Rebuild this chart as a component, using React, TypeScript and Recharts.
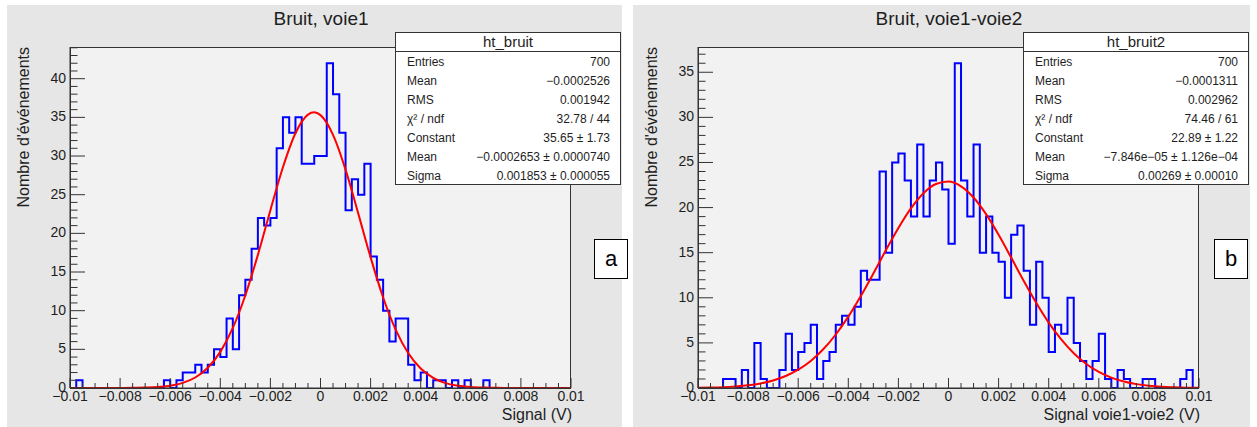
import React from 'react';
import { ComposedChart, Line, XAxis, YAxis } from 'recharts';

// 80 bins of 0.00025 V between -0.01 and 0.01
const BIN_START = -0.01;
const BIN_WIDTH = 0.00025;

const countsVoie1 = [
  0, 1, 0, 0, 0, 0, 0, 0, 0, 0,
  0, 0, 0, 0, 0, 1, 0, 1, 2, 2,
  3, 2, 3, 5, 4, 9, 5, 12, 14, 18,
  22, 21, 22, 31, 35, 33, 35, 29, 29, 30,
  30, 42, 38, 33, 23, 27, 25, 29, 17, 14,
  10, 6, 9, 9, 3, 1, 2, 0, 1, 1,
  0, 1, 0, 1, 0, 0, 1, 0, 0, 0,
  0, 0, 0, 0, 0, 0, 0, 0, 0, 0,
];

const countsDiff = [
  0, 0, 0, 0, 1, 1, 0, 2, 0, 5,
  1, 0, 0, 2, 6, 2, 4, 5, 7, 1,
  3, 4, 7, 8, 7, 9, 13, 12, 12, 24,
  15, 25, 26, 23, 19, 27, 19, 23, 25, 22,
  16, 36, 23, 19, 27, 15, 19, 15, 14, 10,
  17, 18, 13, 7, 14, 10, 4, 7, 6, 10,
  5, 3, 1, 3, 6, 1, 0, 2, 1, 0,
  0, 1, 1, 0, 0, 0, 0, 1, 2, 0,
];

// red gaussian fit
const fitXVoie1 = [
  -0.01, -0.0095, -0.009, -0.0085, -0.008, -0.0075, -0.007, -0.0065, -0.006, -0.0055,
  -0.005, -0.0045, -0.004, -0.0035, -0.003, -0.0025, -0.002, -0.0015, -0.001, -0.0005,
  -0.00025, 0, 0.0005, 0.001, 0.0015, 0.002, 0.0025, 0.003, 0.0035, 0.004,
  0.0045, 0.005, 0.0055, 0.006, 0.0065, 0.007, 0.0075, 0.008, 0.0085, 0.009, 0.0095, 0.01,
];
const fitYVoie1 = [
  0, 0, 0, 0, 0.01, 0.02, 0.05, 0.12, 0.3, 0.66,
  1.36, 2.62, 4.67, 7.77, 12.0, 17.22, 23.0, 28.55, 32.95, 35.36,
  35.65, 35.29, 32.74, 28.24, 22.65, 16.89, 11.71, 7.55, 4.52, 2.52,
  1.31, 0.63, 0.28, 0.12, 0.05, 0.02, 0.01, 0, 0, 0, 0, 0,
];

const fitXDiff = [
  -0.01, -0.0095, -0.009, -0.0085, -0.008, -0.0075, -0.007, -0.0065, -0.006, -0.0055,
  -0.005, -0.0045, -0.004, -0.0035, -0.003, -0.0025, -0.002, -0.0015, -0.001, -0.0005,
  0, 0.0005, 0.001, 0.0015, 0.002, 0.0025, 0.003, 0.0035, 0.004, 0.0045,
  0.005, 0.0055, 0.006, 0.0065, 0.007, 0.0075, 0.008, 0.0085, 0.009, 0.0095, 0.01,
];
const fitYDiff = [
  0.03, 0.05, 0.09, 0.17, 0.3, 0.51, 0.84, 1.33, 2.03, 3.0,
  4.29, 5.93, 7.91, 10.2, 12.69, 15.27, 17.74, 19.91, 21.59, 22.61,
  22.88, 22.36, 21.12, 19.27, 16.98, 14.46, 11.89, 9.45, 7.25, 5.38,
  3.85, 2.66, 1.78, 1.15, 0.72, 0.43, 0.25, 0.14, 0.08, 0.04, 0.02,
];

const xTickLabels = ['\u22120.01', '\u22120.008', '\u22120.006', '\u22120.004', '\u22120.002', '0', '0.002', '0.004', '0.006', '0.008', '0.01'];

const statsLabels = ['Entries', 'Mean', 'RMS', '\u03c7\u00b2 / ndf', 'Constant', 'Mean', 'Sigma'];
const statsVoie1 = ['700', '\u22120.0002526', '0.001942', '32.78 / 44', '35.65 \u00b1 1.73', '\u22120.0002653 \u00b1 0.0000740', '0.001853 \u00b1 0.000055'];
const statsDiff = ['700', '\u22120.0001311', '0.002962', '74.46 / 61', '22.89 \u00b1 1.22', '\u22127.846e\u221205 \u00b1 1.126e\u221204', '0.00269 \u00b1 0.00010'];

const FONT = '"Liberation Sans", Arial, Helvetica, sans-serif';
const AXIS = '#333';
const TEXT = '#1e1e1e';

// minor ticks every 0.0005, major every 0.002
const xTicks = Array.from({ length: 41 }, (_, i) => Number((-0.01 + i * 0.0005).toFixed(5)));

const XTick = (props: any) => {
  const { x, y, payload } = props;
  const k = Math.round((payload.value + 0.01) / 0.0005);
  const major = k % 4 === 0;
  return (
    <g>
      <line x1={x} x2={x} y1={y} y2={y - (major ? 10 : 5)} stroke={AXIS} strokeWidth={1} />
      {major && (
        <text x={x} y={y + 13} textAnchor="middle" fontSize={14} fontFamily={FONT} fill={TEXT}>
          {xTickLabels[k / 4]}
        </text>
      )}
    </g>
  );
};

const YTick = (props: any) => {
  const { x, y, payload } = props;
  const major = payload.value % 5 === 0;
  return (
    <g>
      <line x1={x} x2={x + (major ? 15 : 7.5)} y1={y} y2={y} stroke={AXIS} strokeWidth={1} />
      {major && (
        <text x={x - 4} y={y + 4} textAnchor="end" fontSize={14} fontFamily={FONT} fill={TEXT}>
          {payload.value}
        </text>
      )}
    </g>
  );
};

interface PanelProps {
  ox: number;
  canvasLeft: number;
  canvasWidth: number;
  title: string;
  xTitle: string;
  counts: number[];
  fitX: number[];
  fitY: number[];
  yMax: number;
  statsName: string;
  stats: string[];
  tag: string;
  tagLeft: number;
}

function HistPanel({ ox, canvasLeft, canvasWidth, title, xTitle, counts, fitX, fitY, yMax, statsName, stats, tag, tagLeft }: PanelProps) {
  const hist = counts.map((c, i) => ({ x: BIN_START + i * BIN_WIDTH, y: c }));
  hist.push({ x: 0.01, y: counts[counts.length - 1] });
  const fit = fitX.map((x, i) => ({ x, y: fitY[i] }));
  const yTicks = Array.from({ length: Math.floor(yMax) + 1 }, (_, i) => i);

  return (
    <>
      <div style={{ position: 'absolute', left: canvasLeft, top: 5, width: canvasWidth, height: 422, background: '#e6e6e6' }} />
      <div
        style={{
          position: 'absolute', left: ox + 70, top: 47, width: 501, height: 342,
          background: '#f2f2f2', border: `1px solid ${AXIS}`, boxSizing: 'border-box',
        }}
      />
      <div style={{ position: 'absolute', left: ox, top: 0 }}>
        <ComposedChart width={628} height={427} margin={{ top: 47, right: 57, bottom: 0, left: 0 }}>
          <XAxis
            type="number"
            dataKey="x"
            domain={[-0.01, 0.01]}
            ticks={xTicks}
            interval={0}
            allowDataOverflow
            height={39}
            tickSize={0}
            tickMargin={0}
            tickLine={false}
            axisLine={{ stroke: AXIS }}
            tick={XTick}
          />
          <YAxis
            type="number"
            dataKey="y"
            domain={[0, yMax]}
            ticks={yTicks}
            interval={0}
            allowDataOverflow
            width={70}
            tickSize={0}
            tickMargin={0}
            tickLine={false}
            axisLine={{ stroke: AXIS }}
            tick={YTick}
          />
          <Line data={hist} dataKey="y" type="stepAfter" stroke="#0000ff" strokeWidth={2} dot={false} isAnimationActive={false} />
          <Line data={fit} dataKey="y" type="monotone" stroke="#ff0000" strokeWidth={2} dot={false} isAnimationActive={false} />
        </ComposedChart>
      </div>
      <svg style={{ position: 'absolute', left: ox, top: 0 }} width={628} height={427}>
        <text x={321} y={25} textAnchor="middle" fontSize={19} fontFamily={FONT} fill={TEXT}>{title}</text>
        <text x={29} y={47} transform="rotate(-90 29 47)" textAnchor="end" fontSize={16} fontFamily={FONT} fill={TEXT}>
          Nombre d'événements
        </text>
        <text x={572} y={420} textAnchor="end" fontSize={16} fontFamily={FONT} fill={TEXT}>{xTitle}</text>
      </svg>
      <div
        style={{
          position: 'absolute', left: ox + 395, top: 32, width: 226, height: 153,
          background: '#fff', border: `1px solid ${AXIS}`, boxSizing: 'border-box', fontFamily: FONT, color: TEXT,
        }}
      >
        <div style={{ height: 18, borderBottom: `1px solid ${AXIS}`, textAlign: 'center', fontSize: 15, lineHeight: '18px' }}>
          {statsName}
        </div>
        {statsLabels.map((label, i) => (
          <div
            key={i}
            style={{ height: 19, display: 'flex', justifyContent: 'space-between', alignItems: 'center', padding: '0 10px 0 11px', fontSize: 12 }}
          >
            <span>{label}</span>
            <span>{stats[i]}</span>
          </div>
        ))}
      </div>
      <div
        style={{
          position: 'absolute', left: tagLeft, top: 239, width: 34, height: 40, background: '#fff',
          border: '1px solid #000', boxSizing: 'border-box', fontFamily: FONT, fontSize: 22,
          display: 'flex', alignItems: 'center', justifyContent: 'center', color: '#000',
        }}
      >
        {tag}
      </div>
    </>
  );
}

export default function App() {
  return (
    <div style={{ position: 'absolute', left: 0, top: 0, width: 1257, height: 427, background: '#fff', overflow: 'hidden' }}>
      <HistPanel
        ox={0}
        canvasLeft={7}
        canvasWidth={615}
        title="Bruit, voie1"
        xTitle="Signal (V)"
        counts={countsVoie1}
        fitX={fitXVoie1}
        fitY={fitYVoie1}
        yMax={44.1}
        statsName="ht_bruit"
        stats={statsVoie1}
        tag="a"
        tagLeft={594}
      />
      <HistPanel
        ox={628}
        canvasLeft={633}
        canvasWidth={617}
        title="Bruit, voie1-voie2"
        xTitle="Signal voie1-voie2 (V)"
        counts={countsDiff}
        fitX={fitXDiff}
        fitY={fitYDiff}
        yMax={37.8}
        statsName="ht_bruit2"
        stats={statsDiff}
        tag="b"
        tagLeft={1214}
      />
    </div>
  );
}
